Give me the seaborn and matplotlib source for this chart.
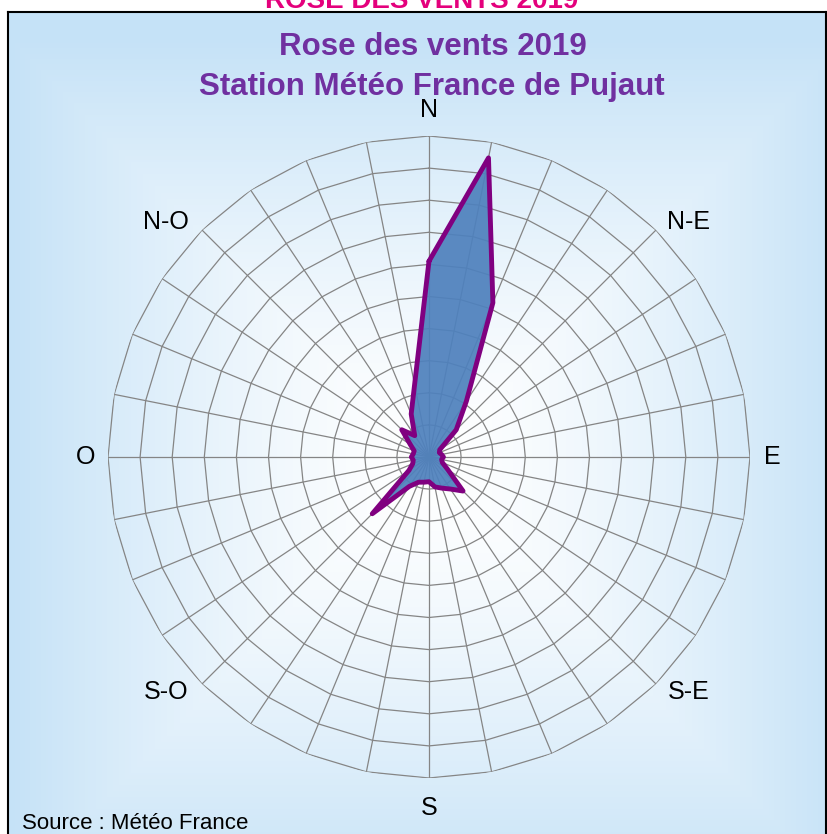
import numpy as np
import matplotlib
matplotlib.use("Agg")
import matplotlib.pyplot as plt
import seaborn as sns

# Rose des vents : 32 directions (pas de 11,25°), en partant du Nord, sens horaire
directions = np.arange(32) * 11.25
frequences = [6.1, 9.5, 5.2, 2.1, 1.2, 0.4, 0.35, 0.4,
              0.45, 0.4, 0.45, 0.7, 1.5, 1.2, 1.05, 0.95,
              0.77, 0.8, 0.85, 1.1, 2.5, 0.75, 0.55, 0.5,
              0.55, 0.5, 0.5, 0.7, 1.2, 0.8, 1.45, 2.3]
cercles = list(range(1, 11))
labels_dir = ["N", "N-E", "E", "S-E", "S", "S-O", "O", "N-O"]
angles_labels = [0, 47.8, 90, 132.2, 180, 228.2, 270, 311.8]
rayons_labels = [10.81, 10.9, 10.69, 10.9, 10.95, 10.99, 10.69, 10.99]

sns.set_style("white")
plt.rcParams['font.family'] = ['Liberation Sans', 'DejaVu Sans']

W, H = 828, 834
fig = plt.figure(figsize=(W / 100, H / 100), dpi=100)
fig.patch.set_facecolor("white")

# fond dégradé (blanc au centre, bleu clair sur les bords)
bg = fig.add_axes([8 / W, 0, 818 / W, 822 / H], zorder=0)
gh, gw = 822, 818
yy, xx = np.mgrid[0:gh, 0:gw]
cx, cy = 421, 455
t = np.maximum(np.abs(xx - cx) / 420, np.abs(yy - cy) / 430)
t = np.clip(t, 0, 1) ** 1.4
bleu = np.array([197, 226, 247]) / 255
blanc = np.array([1.0, 1.0, 1.0])
img = blanc[None, None, :] * (1 - t[..., None]) + bleu[None, None, :] * t[..., None]
bg.imshow(img, aspect="auto", extent=[0, gw, gh, 0])
bg.set_xticks([])
bg.set_yticks([])
for sp in bg.spines.values():
    sp.set_color("black")
    sp.set_linewidth(1.5)
bg.spines["bottom"].set_visible(False)

# axe polaire
ax = fig.add_axes([108 / W, 56 / H, 642 / W, 642 / H], projection="polar", zorder=2)
ax.patch.set_alpha(0)
ax.set_theta_zero_location("N")
ax.set_theta_direction(-1)
ax.grid(False)
ax.spines["polar"].set_visible(False)
ax.set_xticks([])
ax.set_yticks([])

theta = np.deg2rad(directions)
theta_c = np.append(theta, 2 * np.pi)

# grille polygonale
for r in cercles:
    ax.plot(theta_c, [r] * len(theta_c), color="#858585", lw=0.9, zorder=1)
for a in theta:
    ax.plot([a, a], [0, cercles[-1]], color="#858585", lw=0.9, zorder=1)

r_c = np.append(frequences, frequences[0])
ax.fill(theta_c, r_c, color="#4F81BD", alpha=0.93, zorder=3, lw=0)
sns.lineplot(x=theta_c, y=r_c, sort=False, estimator=None, ax=ax,
             color="#800080", lw=3.5, zorder=4)
ax.set_xlabel("")
ax.set_ylabel("")
ax.set_ylim(0, 10)

for lab, ang, rr in zip(labels_dir, angles_labels, rayons_labels):
    ax.text(np.deg2rad(ang), rr, lab, ha="center", va="center",
            fontsize=18, color="black")

# titres
fig.text(422 / W, 1 - 8 / H, "ROSE DES VENTS 2019", ha="center", va="baseline",
         fontsize=20, fontweight="bold", color="#E4007C")
fig.text(433 / W, 1 - 55 / H, "Rose des vents 2019", ha="center", va="baseline",
         fontsize=22.5, fontweight="bold", color="#7030A0")
fig.text(432 / W, 1 - 95 / H, "Station Météo France de Pujaut", ha="center",
         va="baseline", fontsize=22.5, fontweight="bold", color="#7030A0")
fig.text(22 / W, 1 - 829 / H, "Source : Météo France", ha="left", va="baseline",
         fontsize=16, color="black")

plt.savefig("out.png", dpi=100)
